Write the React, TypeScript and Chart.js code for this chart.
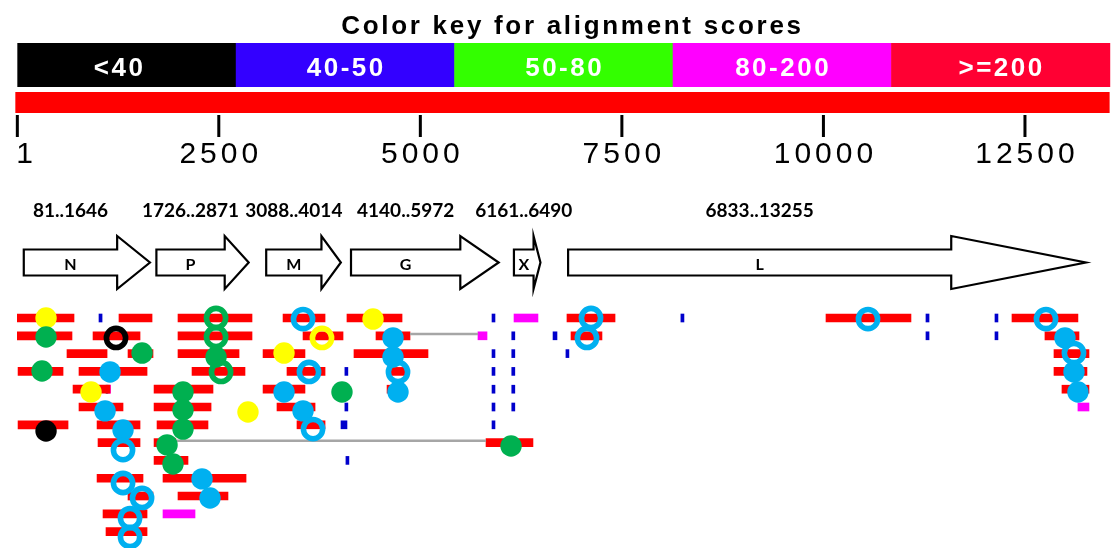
import React, { useEffect, useRef } from 'react';
import { Chart, registerables } from 'chart.js';

Chart.register(...registerables);

const W = 1113;
const H = 548;

// ---- header: score colour key and genome ruler ----
const TITLE = 'Color key for alignment scores';
const SCORE_BINS = ['<40', '40-50', '50-80', '80-200', '>=200'];
const SCORE_COLORS = ['#000000', '#3300ff', '#33ff00', '#ff00ff', '#ff0033'];

const GENOME_LENGTH = 13550;
const RULER_TICKS = [1, 2500, 5000, 7500, 10000, 12500];

// ---- annotated genes ----
const GENE_NAMES = ['N', 'P', 'M', 'G', 'X', 'L'];
const GENE_STARTS = [81, 1726, 3088, 4140, 6161, 6833];
const GENE_ENDS = [1646, 2871, 4014, 5972, 6490, 13255];

// ---- alignment hits, one array per score class: [row, start, end] ----
const HITS_200: [number, number, number][] = [
  [0, 1, 704], [0, 1262, 1672], [0, 1994, 2912], [0, 3297, 3818], [0, 4090, 4773],
  [0, 6819, 7415], [0, 10032, 11086], [0, 12339, 13157],
  [1, 1, 679], [1, 940, 1523], [1, 1994, 2912], [1, 3545, 4041], [1, 4450, 4872],
  [1, 6869, 7253], [1, 12748, 13170],
  [2, 617, 1114], [2, 1374, 1684], [2, 1994, 2751], [2, 3049, 3569], [2, 4177, 5095],
  [2, 12860, 13294],
  [3, 10, 568], [3, 766, 1610], [3, 2168, 2825], [3, 3346, 3818], [3, 4624, 4822],
  [3, 12860, 13269],
  [4, 692, 1151], [4, 1697, 2428], [4, 3049, 3569], [4, 4587, 4711], [4, 12959, 13294],
  [5, 766, 1312], [5, 1697, 2404], [5, 3222, 3694],
  [6, 10, 630], [6, 990, 1523], [6, 1734, 2366], [6, 3470, 3818],
  [7, 1002, 1523], [7, 1697, 1967], [7, 5815, 6397],
  [8, 1697, 2118],
  [9, 990, 1560], [9, 1808, 2838],
  [10, 1374, 1684], [10, 1994, 2614],
  [11, 1064, 1610],
  [12, 1101, 1610],
];
const HITS_80_200: [number, number, number][] = [
  [0, 6162, 6459], [1, 5715, 5827], [4, 1126, 1157], [5, 13157, 13294], [11, 1808, 2205],
];
const HITS_40_50: [number, number, number][] = [
  [0, 1014, 1052], [0, 5889, 5926], [0, 8232, 8270], [0, 11272, 11310], [0, 12128, 12165],
  [1, 6134, 6172], [1, 6646, 6695], [1, 11272, 11310], [1, 12128, 12165],
  [2, 5889, 5926], [2, 6134, 6172], [2, 6806, 6843],
  [3, 4064, 4101], [3, 5889, 5926], [3, 6134, 6172],
  [4, 5889, 5926], [4, 6134, 6172],
  [5, 4064, 4101], [5, 5889, 5926], [5, 6134, 6172],
  [6, 4016, 4090], [6, 5889, 5926],
  [8, 4077, 4114],
];
const HITS_BELOW_40: [number, number, number][] = [[4, 1101, 1126]];

// connectors joining pieces of one hit: [row, from, to]
const LINKS: [number, number, number][] = [
  [1, 4872, 5715],
  [7, 1967, 5815],
];

// ---- markers on hits: [position, row] ----
const DOTS_YELLOW: [number, number][] = [[357, 0], [915, 4.16], [2862, 5.28], [3309, 1.97], [4413, 0.06]];
const DOTS_GREEN: [number, number][] = [
  [357, 1.07], [307, 2.98], [1548, 1.97], [2466, 2.19], [2056, 4.16], [2056, 5.17],
  [2056, 6.24], [1858, 7.13], [1932, 8.2], [4028, 4.16], [6125, 7.19],
];
const DOTS_BLUE: [number, number][] = [
  [1151, 3.03], [1089, 5.22], [1312, 6.29], [2292, 9.04], [2391, 10.11], [3309, 4.16],
  [3545, 5.22], [4661, 1.12], [4661, 2.19], [4723, 4.16], [12996, 1.12], [13108, 3.03],
  [13157, 4.16],
];
const DOTS_BLACK: [number, number][] = [[357, 6.35]];
const RINGS_BLUE: [number, number][] = [
  [1312, 7.42], [1312, 9.27], [1548, 10.11], [1399, 11.24], [1399, 12.3], [3545, 0.06],
  [3619, 3.03], [3669, 6.24], [4723, 3.03], [7117, 0], [7067, 1.12], [10553, 0.06],
  [12761, 0.06], [13108, 1.97],
];
const RINGS_GREEN: [number, number][] = [[2466, 0], [2466, 1.07], [2528, 3.03]];
const RINGS_YELLOW: [number, number][] = [[3780, 1.12]];
const RINGS_BLACK: [number, number][] = [[1225, 1.12]];

// axis windows (sequence position across, hit row downwards)
const X_MIN = -214;
const X_MAX = 13592;
const Y_MIN = -17.865;
const Y_MAX = 12.921;

const SANS = '"Liberation Sans", Arial, sans-serif';
const LABEL_FONT = 'Lato, "Open Sans", sans-serif';

function hitBars(hits: [number, number, number][], color: string) {
  return {
    type: 'bar' as const,
    indexAxis: 'y' as const,
    data: hits.map(([row, s, e]) => ({ x: [s, e], y: row })),
    backgroundColor: color,
    borderWidth: 0,
    barThickness: 8,
    grouped: false,
    order: 3,
  };
}

function dots(points: [number, number][], color: string) {
  return {
    type: 'scatter' as const,
    data: points.map(([x, y]) => ({ x, y })),
    pointRadius: 10.7,
    pointBackgroundColor: color,
    pointBorderWidth: 0,
    pointHoverRadius: 10.7,
    order: 1,
  };
}

function rings(points: [number, number][], color: string) {
  return {
    type: 'scatter' as const,
    data: points.map(([x, y]) => ({ x, y })),
    pointRadius: 9.6,
    pointBackgroundColor: 'rgba(0,0,0,0)',
    pointBorderColor: color,
    pointBorderWidth: 5.6,
    pointHoverRadius: 9.6,
    order: 0,
  };
}

function links() {
  return LINKS.map(([row, s, e]) => ({
    type: 'line' as const,
    data: [{ x: s, y: row - 0.1 }, { x: e, y: row - 0.1 }],
    borderColor: '#a6a6a6',
    borderWidth: 2.5,
    pointRadius: 0,
    order: 2,
  }));
}

const genomeTrack = {
  id: 'genomeTrack',
  beforeDraw(chart: any) {
    const { ctx } = chart;
    ctx.save();
    ctx.fillStyle = '#ffffff';
    ctx.fillRect(0, 0, chart.width, chart.height);
    ctx.restore();
  },
  beforeDatasetsDraw(chart: any) {
    const { ctx } = chart;
    const xs = chart.scales.x;
    const left = xs.getPixelForValue(1);
    const right = xs.getPixelForValue(GENOME_LENGTH);
    ctx.save();

    // title
    ctx.fillStyle = '#000';
    ctx.font = `bold 26px ${SANS}`;
    ctx.letterSpacing = '2.7px';
    ctx.textAlign = 'center';
    ctx.textBaseline = 'alphabetic';
    ctx.fillText(TITLE, (left + right) / 2 + 9, 34);

    // colour key
    const segW = (right - left) / SCORE_BINS.length;
    SCORE_BINS.forEach((label, i) => {
      ctx.fillStyle = SCORE_COLORS[i];
      ctx.fillRect(left + i * segW, 43, segW + 0.6, 44);
    });
    ctx.font = `bold 26px ${SANS}`;
    ctx.letterSpacing = '2.5px';
    ctx.fillStyle = '#ffffff';
    SCORE_BINS.forEach((label, i) => {
      const shift = i === 0 ? -7 : 1.2;
      ctx.fillText(label, left + (i + 0.5) * segW + shift, 76);
    });

    // ruler
    ctx.fillStyle = '#ff0000';
    ctx.fillRect(left - 2, 92, right - left + 2, 21);
    ctx.fillStyle = '#000';
    ctx.font = `30px ${SANS}`;
    ctx.letterSpacing = '4px';
    RULER_TICKS.forEach((v, i) => {
      const px = xs.getPixelForValue(v);
      ctx.fillRect(px - 1.5, 115, 3, 22);
      if (i === 0) {
        ctx.textAlign = 'left';
        ctx.fillText(String(v), px - 1, 163);
      } else {
        ctx.textAlign = 'center';
        ctx.fillText(String(v), px + 2, 163);
      }
    });
    ctx.letterSpacing = '0px';

    // gene arrows
    const bodyTop = 249.5;
    const bodyBottom = 275.5;
    const headTop = 236;
    const headBottom = 289;
    const tipY = 262.5;
    GENE_NAMES.forEach((name, i) => {
      const x0 = xs.getPixelForValue(GENE_STARTS[i]);
      const x1 = xs.getPixelForValue(GENE_ENDS[i]);
      const head = (x1 - x0) * 0.26;
      const hb = x1 - head;
      ctx.beginPath();
      ctx.moveTo(x0, bodyTop);
      ctx.lineTo(hb, bodyTop);
      ctx.lineTo(hb, headTop);
      ctx.lineTo(x1, tipY);
      ctx.lineTo(hb, headBottom);
      ctx.lineTo(hb, bodyBottom);
      ctx.lineTo(x0, bodyBottom);
      ctx.closePath();
      ctx.fillStyle = '#ffffff';
      ctx.fill();
      ctx.lineWidth = 2.2;
      ctx.strokeStyle = '#000';
      ctx.lineJoin = 'miter';
      ctx.stroke();

      const bodyMid = (x0 + hb) / 2;
      ctx.fillStyle = '#000';
      ctx.textAlign = 'center';
      ctx.textBaseline = 'alphabetic';
      ctx.font = `bold 16px ${LABEL_FONT}`;
      ctx.fillText(name, bodyMid, 270);
      ctx.font = `bold 19px ${LABEL_FONT}`;
      ctx.fillText(`${GENE_STARTS[i]}..${GENE_ENDS[i]}`, bodyMid, 217);
    });

    ctx.restore();
  },
};

export default function App() {
  const ref = useRef<HTMLCanvasElement>(null);

  useEffect(() => {
    const canvas = ref.current;
    if (!canvas) return;
    const chart = new Chart(canvas, {
      type: 'bar',
      data: {
        datasets: [
          ...[RINGS_BLUE, RINGS_GREEN, RINGS_YELLOW, RINGS_BLACK].map((p, i) =>
            rings(p, ['#00b0f0', '#00b050', '#ffff00', '#000000'][i])),
          ...[DOTS_BLUE, DOTS_GREEN, DOTS_YELLOW, DOTS_BLACK].map((p, i) =>
            dots(p, ['#00b0f0', '#00b050', '#ffff00', '#000000'][i])),
          ...links(),
          hitBars(HITS_200, '#ff0000'),
          hitBars(HITS_80_200, '#ff00ff'),
          hitBars(HITS_40_50, '#0000cc'),
          hitBars(HITS_BELOW_40, '#000000'),
        ] as any,
      },
      options: {
        indexAxis: 'y',
        responsive: false,
        maintainAspectRatio: false,
        animation: false,
        devicePixelRatio: 1,
        events: [],
        layout: { padding: 0, autoPadding: false },
        scales: {
          x: { type: 'linear', min: X_MIN, max: X_MAX, display: false, offset: false, bounds: 'data' },
          y: { type: 'linear', min: Y_MIN, max: Y_MAX, reverse: true, display: false, offset: false, bounds: 'data' },
        },
        plugins: {
          legend: { display: false },
          tooltip: { enabled: false },
        },
      } as any,
      plugins: [genomeTrack],
    });
    return () => chart.destroy();
  }, []);

  return (
    <div style={{ position: 'absolute', left: 0, top: 0, width: W, height: H, background: '#ffffff' }}>
      <canvas ref={ref} width={W} height={H} style={{ width: W, height: H, display: 'block' }} />
    </div>
  );
}
